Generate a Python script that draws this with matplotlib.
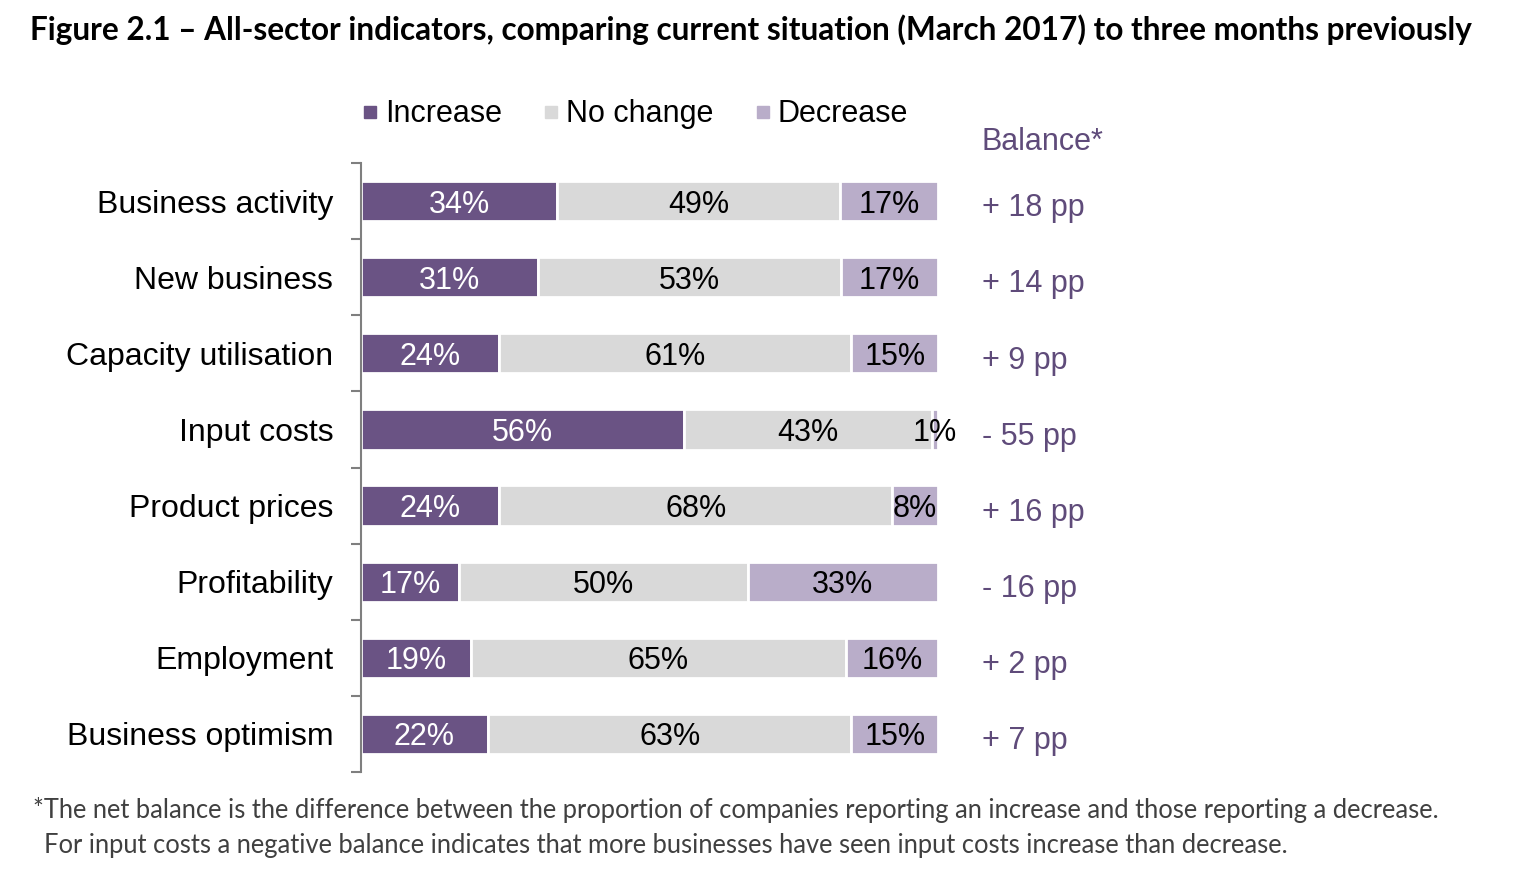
import numpy as np
import matplotlib.pyplot as plt
from matplotlib.lines import Line2D

categories = ['Business activity', 'New business', 'Capacity utilisation', 'Input costs',
              'Product prices', 'Profitability', 'Employment', 'Business optimism']
increase = [34, 31, 24, 56, 24, 17, 19, 22]
no_change = [49, 53, 61, 43, 68, 50, 65, 63]
decrease = [17, 17, 15, 1, 8, 33, 16, 15]
balance = ['+ 18 pp', '+ 14 pp', '+ 9 pp', '- 55 pp', '+ 16 pp', '- 16 pp', '+ 2 pp', '+ 7 pp']

series_names = ['Increase', 'No change', 'Decrease']
colors = ['#6a5384', '#d9d9d9', '#b9adc9']
label_colors = ['white', 'black', 'black']
purple_txt = '#5f4b7a'

plt.rcParams['font.family'] = ['Liberation Sans', 'DejaVu Sans']

fig = plt.figure(figsize=(15.16, 8.92), dpi=100)
ax = fig.add_axes([361/1516, 120/892, 577/1516, 609/892])

data = np.array([increase, no_change, decrease], dtype=float)
totals = data.sum(axis=0)
shares = data / totals * 100   # 100% stacked, like the original
y = np.arange(len(categories))

left = np.zeros(len(categories))
for k in range(3):
    ax.barh(y, shares[k], left=left, height=0.53, color=colors[k],
            edgecolor='white', linewidth=2)
    for i in range(len(categories)):
        ax.text(left[i] + shares[k][i]/2, y[i], f'{int(data[k][i])}%',
                ha='center', va='center_baseline', fontsize=22, color=label_colors[k])
    left += shares[k]

ax.set_xlim(0, 100)
ax.set_ylim(len(categories) - 0.5, -0.5)
ax.set_xticks([])
ax.set_yticks(y)
ax.set_yticklabels(categories, fontsize=23, va='center_baseline')
ax.set_yticks(np.arange(-0.5, len(categories)), minor=True)
ax.tick_params(axis='y', which='major', length=0, pad=20)
ax.tick_params(axis='y', which='minor', length=7, width=1.5, color='#7f7f7f', direction='out')
for s in ['top', 'right', 'bottom']:
    ax.spines[s].set_visible(False)
ax.spines['left'].set_color('#7f7f7f')
ax.spines['left'].set_linewidth(1.5)

# balance column
ax.text(107.6, -0.82, 'Balance*', fontsize=22, color=purple_txt, ha='left', va='center_baseline', clip_on=False)
for i, b in enumerate(balance):
    ax.text(107.6, y[i] + 0.05, b, fontsize=22, color=purple_txt, ha='left', va='center_baseline', clip_on=False)

handles = [Line2D([], [], marker='s', linestyle='none', markersize=9, color=c) for c in colors]
ax.legend(handles, series_names, loc='center left', bbox_to_anchor=(-0.027, 1.080),
          ncol=3, frameon=False, fontsize=22, handletextpad=0.1, columnspacing=1.2,
          borderaxespad=0, handlelength=0.8)

fig.text(30/1516, 1 - 30/892, 'Figure 2.1 \u2013 All-sector indicators, comparing current situation (March 2017) to three months previously',
         fontsize=22.7, fontweight='bold', family=['Lato', 'DejaVu Sans'], ha='left', va='center')
fig.text(33/1516, 1 - 810/892,
         '*The net balance is the difference between the proportion of companies reporting an increase and those reporting a decrease.',
         fontsize=18.4, family=['Lato', 'DejaVu Sans'], color='#404040', ha='left', va='center')
fig.text(44/1516, 1 - 845/892,
         'For input costs a negative balance indicates that more businesses have seen input costs increase than decrease.',
         fontsize=18.4, family=['Lato', 'DejaVu Sans'], color='#404040', ha='left', va='center')

fig.savefig('out.png', dpi=100)
